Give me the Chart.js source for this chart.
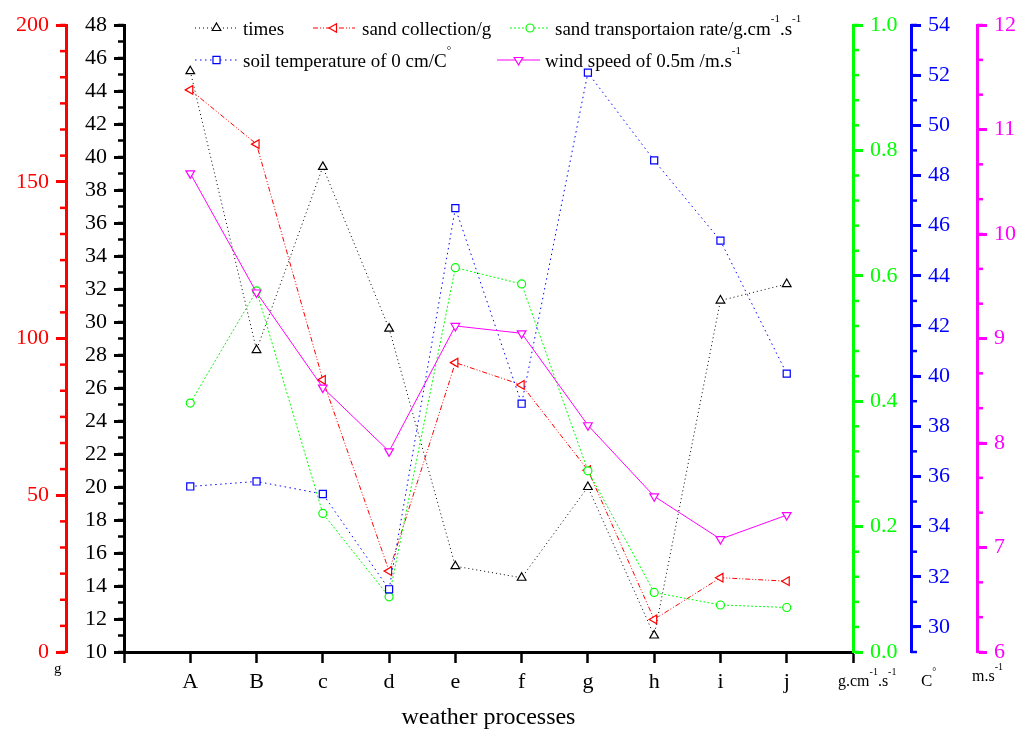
<!DOCTYPE html>
<html>
<head>
<meta charset="utf-8">
<title>weather processes</title>
<script src="https://cdn.jsdelivr.net/npm/chart.js@4.4.1/dist/chart.umd.min.js"></script>
<style>
  html, body { margin: 0; padding: 0; background: #fff; }
  canvas { display: block; }
</style>
</head>
<body>
<canvas id="chart" width="1026" height="735"></canvas>
<script>
// categories (x axis)
const categories = ['A', 'B', 'c', 'd', 'e', 'f', 'g', 'h', 'i', 'j'];

// series values
const times = [45.2, 28.3, 39.4, 29.6, 15.2, 14.5, 20.0, 11.0, 31.3, 32.3];
const sandCollection = [179.3, 162.0, 86.8, 25.8, 92.3, 85.2, 58.0, 10.4, 23.7, 22.6];
const transportRate = [0.397, 0.576, 0.221, 0.088, 0.613, 0.587, 0.289, 0.095, 0.075, 0.071];
const soilTemp = [35.6, 35.8, 35.3, 31.5, 46.7, 38.9, 52.1, 48.6, 45.4, 40.1];
const windSpeed = [10.58, 9.44, 8.53, 7.92, 9.12, 9.05, 8.17, 7.49, 7.08, 7.31];

// labelled ticks of every axis
const timesTicks = [10, 12, 14, 16, 18, 20, 22, 24, 26, 28, 30, 32, 34, 36, 38, 40, 42, 44, 46, 48];
const sandTicks = [0, 50, 100, 150, 200];
const rateTicks = [0, 0.2, 0.4, 0.6, 0.8, 1.0];
const tempTicks = [30, 32, 34, 36, 38, 40, 42, 44, 46, 48, 50, 52, 54];
const windTicks = [6, 7, 8, 9, 10, 11, 12];

// minor tick step per axis (drawn by plugin)
const minorSteps = { yTimes: 1, ySand: 50 / 6, yRate: 0.04, yTemp: 1, yWind: 1 / 3 };

const FONT = '"Liberation Serif", "Times New Roman", serif';

function series(label, values, axis, color, dash, style, rotation, radius, order) {
    return {
        label: label,
        data: values.map((v, i) => ({ x: i + 1, y: v })),
        yAxisID: axis,
        order: order, // later series on top, like the original
        borderColor: color,
        borderWidth: 1,
        borderDash: dash,
        pointStyle: style,
        pointRotation: rotation,
        pointRadius: radius,
        pointHoverRadius: radius,
        pointBorderColor: color,
        pointBackgroundColor: '#fff',
        pointBorderWidth: 1.2,
        tension: 0,
        fill: false
    };
}

function yAxis(position, color, min, max, tickValues, weight, width, fmt) {
    return {
        type: 'linear',
        position: position,
        min: min,
        max: max,
        weight: weight,
        afterBuildTicks: s => { s.ticks = tickValues.map(v => ({ value: v })); },
        afterFit: s => { s.width = width; },
        border: { display: true, color: color, width: 3 },
        grid: { drawOnChartArea: false, drawTicks: true, tickLength: 10, tickWidth: 3, tickColor: color },
        ticks: {
            color: color,
            padding: 7,
            autoSkip: false,
            font: { family: FONT, size: 22 },
            callback: fmt || (v => String(v))
        }
    };
}

const datasets = [
    series('times', times, 'yTimes', '#000000', [1, 3], 'triangle', 0, 5, 5),
    series('sand collection/g', sandCollection, 'ySand', '#ff0000', [5, 2, 1, 2, 1, 2], 'triangle', -90, 5, 4),
    series('sand transportaion rate', transportRate, 'yRate', '#00ff00', [2, 2], 'circle', 0, 4, 3),
    series('soil temperature of 0 cm/C', soilTemp, 'yTemp', '#0000ff', [1.5, 3.5], 'rect', 0, 5, 2),
    series('wind speed of 0.5m /m.s', windSpeed, 'yWind', '#ff00ff', [], 'triangle', 180, 5, 1)
];

// text with superscripts: parts = [[text, isSup], ...]
function drawRich(ctx, parts, x, y, size) {
    parts.forEach(([t, sup]) => {
        const fs = sup ? Math.round(size * 0.6) : size;
        ctx.font = fs + 'px ' + FONT;
        ctx.fillText(t, x, sup ? y - size * 0.66 : y);
        x += ctx.measureText(t).width;
    });
}

const minorTickPlugin = {
    id: 'minorTicks',
    afterDraw(chart) {
        const ctx = chart.ctx;
        Object.entries(minorSteps).forEach(([id, step]) => {
            const s = chart.scales[id];
            const left = s.position === 'left';
            const x0 = left ? s.right : s.left;
            const n = Math.round((s.max - s.min) / step);
            ctx.save();
            ctx.strokeStyle = s.options.border.color;
            ctx.lineWidth = 2.5;
            for (let k = 0; k <= n; k++) {
                const y = s.getPixelForValue(s.min + k * step);
                ctx.beginPath();
                ctx.moveTo(x0, y);
                ctx.lineTo(left ? x0 - 6 : x0 + 6, y);
                ctx.stroke();
            }
            ctx.restore();
        });
    }
};

// legend inside the plot + unit labels under the axes
const legendPlugin = {
    id: 'customLegend',
    afterDraw(chart) {
        const ctx = chart.ctx;
        const items = [
            { ds: 0, x1: 195, x2: 238, y: 28, tx: 243, parts: [['times']] },
            { ds: 1, x1: 313, x2: 355, y: 28, tx: 362, parts: [['sand collection/g']] },
            { ds: 2, x1: 510, x2: 550, y: 28, tx: 555, parts: [['sand transportaion rate/g.cm'], ['-1', true], ['.s'], ['-1', true]] },
            { ds: 3, x1: 195, x2: 238, y: 60, tx: 243, parts: [['soil temperature of 0 cm/C'], ['\u00B0', true]] },
            { ds: 4, x1: 497, x2: 540, y: 60, tx: 545, parts: [['wind speed of 0.5m /m.s'], ['-1', true]] }
        ];
        ctx.save();
        items.forEach(it => {
            const d = chart.data.datasets[it.ds];
            ctx.strokeStyle = d.borderColor;
            ctx.lineWidth = 1;
            ctx.setLineDash(d.borderDash);
            ctx.beginPath();
            ctx.moveTo(it.x1, it.y);
            ctx.lineTo(it.x2, it.y);
            ctx.stroke();
            ctx.setLineDash([]);
            ctx.fillStyle = '#fff';
            ctx.strokeStyle = d.borderColor;
            ctx.lineWidth = d.pointBorderWidth;
            Chart.helpers.drawPoint(ctx, {
                pointStyle: d.pointStyle, rotation: d.pointRotation,
                radius: d.pointRadius, borderWidth: d.pointBorderWidth
            }, (it.x1 + it.x2) / 2, it.y);
            ctx.fillStyle = '#000';
            ctx.textAlign = 'left';
            ctx.textBaseline = 'alphabetic';
            drawRich(ctx, it.parts, it.tx, it.y + 7, 19);
        });

        // units under the axes
        ctx.fillStyle = '#000';
        drawRich(ctx, [['g']], 54, 673, 15);
        drawRich(ctx, [['g.cm'], ['-1', true], ['.s'], ['-1', true]], 838, 686, 16);
        drawRich(ctx, [['C'], ['\u00B0', true]], 921, 686, 17);
        drawRich(ctx, [['m.s'], ['-1', true]], 972, 681, 16);
        ctx.restore();
    }
};

const ctx = document.getElementById('chart').getContext('2d');
new Chart(ctx, {
    type: 'line',
    data: { datasets: datasets },
    options: {
        responsive: false,
        animation: false,
        devicePixelRatio: 1,
        layout: { padding: { top: 25, left: 0, right: 0, bottom: 0 } },
        plugins: { legend: { display: false }, tooltip: { enabled: false } },
        scales: {
            x: {
                type: 'linear',
                position: 'bottom',
                min: 0,
                max: 11,
                afterFit: s => { s.height = 83; },
                border: { display: true, color: '#000', width: 3 },
                grid: { drawOnChartArea: false, drawTicks: true, tickLength: 11, tickWidth: 2.5, tickColor: '#000' },
                ticks: {
                    stepSize: 1,
                    autoSkip: false,
                    maxRotation: 0,
                    padding: 6,
                    color: '#000',
                    font: { family: FONT, size: 22 },
                    callback: v => categories[v - 1] || ''
                },
                title: {
                    display: true,
                    text: 'weather processes',
                    color: '#000',
                    font: { family: FONT, size: 24 },
                    padding: { top: 0, bottom: 3 }
                }
            },
            ySand: yAxis('left', '#ff0000', 0, 200, sandTicks, 2, 66),
            yTimes: yAxis('left', '#000000', 10, 48, timesTicks, 1, 58),
            yRate: yAxis('right', '#00ff00', 0, 1, rateTicks, 0, 58, v => v.toFixed(1)),
            yTemp: yAxis('right', '#0000ff', 29, 54, tempTicks, 1, 66),
            yWind: yAxis('right', '#ff00ff', 6, 12, windTicks, 2, 49)
        }
    },
    plugins: [minorTickPlugin, legendPlugin]
});
</script>
</body>
</html>
